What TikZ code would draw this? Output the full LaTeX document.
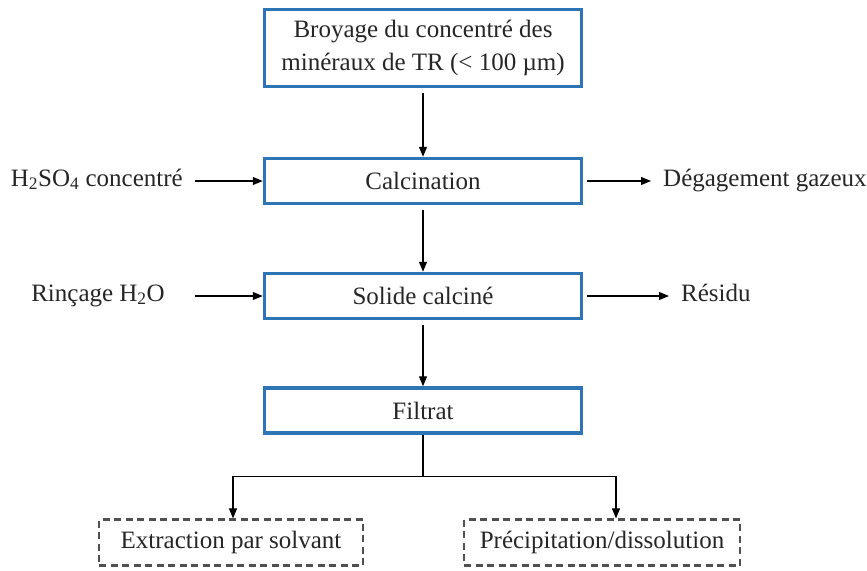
\documentclass[tikz,border=0pt]{standalone}
\usepackage{fontspec}
\newfontfamily\timesfont{Liberation Serif}
\usetikzlibrary{arrows.meta,positioning}
\definecolor{boxblue}{HTML}{2E75B6}
\definecolor{dashgray}{HTML}{505050}
\definecolor{inkgray}{HTML}{262626}
\tikzset{
  stage/.style={draw=boxblue, line width=3.5pt, minimum width=317pt, minimum height=45pt, inner sep=0pt, align=center},
  option/.style={draw=dashgray, line width=2.2pt, dash pattern=on 7pt off 4.5pt, minimum height=46pt, inner sep=0pt},
  side/.style={inner xsep=12pt, inner ysep=0pt, text height=16pt, text depth=6pt},
  flow/.style={-{Triangle[length=10pt,width=8pt]}, line width=1.1pt}
}
\begin{document}
\begin{tikzpicture}[x=1pt,y=-1pt,font=\timesfont\fontsize{25}{33}\selectfont,text=inkgray]
  \useasboundingbox (0,0) rectangle (867,570);
  %%% main stages
  \node[stage, minimum height=77pt] (broyage) at (423,48) {Broyage du concentré des\\minéraux de TR (< 100 µm)};
  \node[stage] (calc) at (423,181) {Calcination};
  \node[stage] (solide) at (423,296) {Solide calciné};
  \node[stage] (filtrat) at (423,410.5) {Filtrat};
  %%% inputs and outputs
  \node[side, anchor=east] (h2so4) at (195,181) {H\textsubscript{2}SO\textsubscript{4} concentré};
  \node[side, anchor=east] (rincage) at (177,296) {Rinçage H\textsubscript{2}O};
  \node[side, anchor=west] (gaz) at (651,181) {Dégagement gazeux};
  \node[side, anchor=west] (residu) at (669,296) {Résidu};
  %%% routes
  \node[option, minimum width=264pt] (extr) at (231,542.5) {Extraction par solvant};
  \node[option, minimum width=276pt] (precip) at (602,542.5) {Précipitation/dissolution};
  %%% arrows
  \draw[flow, shorten <=5pt] (broyage) -- (calc);
  \draw[flow, shorten <=5pt] (calc) -- (solide);
  \draw[flow, shorten <=5pt] (solide) -- (filtrat);
  \draw[flow] (h2so4) -- (calc);
  \draw[flow, shorten <=18pt] (rincage) -- (solide);
  \draw[flow, shorten <=4pt] (calc) -- (gaz);
  \draw[flow, shorten <=4pt] (solide) -- (residu);
  \draw[line width=1.1pt] (filtrat.south) -- ++(0,42) coordinate (split);
  \draw[flow] (split) -| ([xshift=2pt]extr.north);
  \draw[flow] (split) -| ([xshift=14pt]precip.north);
\end{tikzpicture}
\end{document}
